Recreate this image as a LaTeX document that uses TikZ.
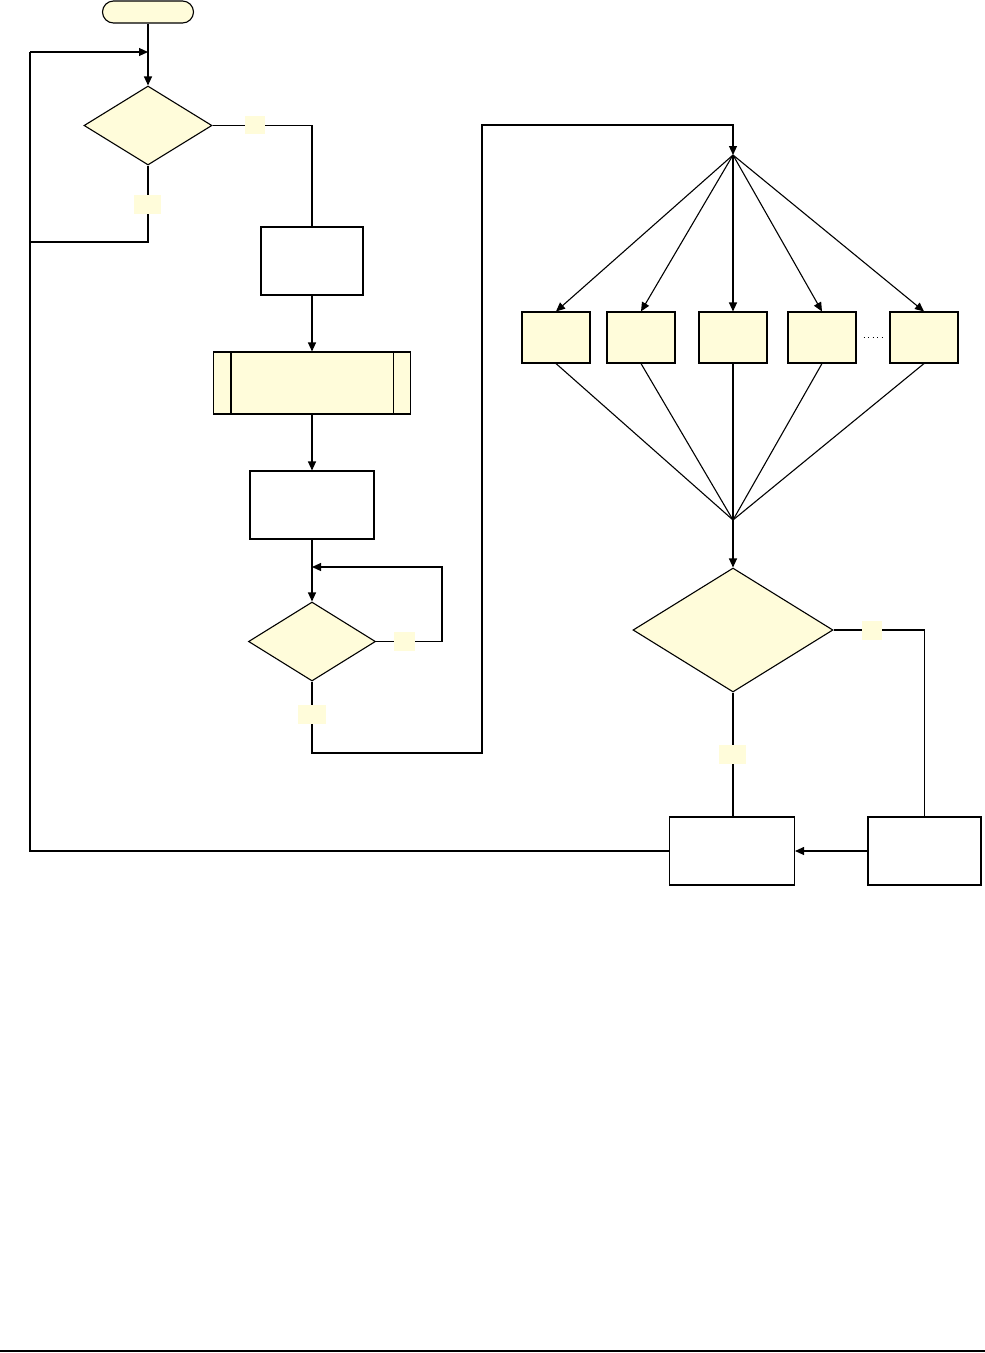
\documentclass[tikz,border=0pt]{standalone}
\usetikzlibrary{shapes.geometric,arrows.meta,calc}
\definecolor{fillY}{RGB}{255,252,218}
\begin{document}
\begin{tikzpicture}[x=1pt,y=-1pt,
  line/.style={line width=1.1pt, draw=black},
  arr/.style={line, -{Triangle[length=9pt,width=8pt]}},
  proc/.style={draw, line width=1.1pt, rectangle, inner sep=0pt, fill=white},
  yproc/.style={proc, fill=fillY},
  dec/.style={draw, line width=1.1pt, diamond, fill=fillY, inner sep=0pt},
  lab/.style={rectangle, fill=fillY, inner sep=0pt},
  pbox/.style={yproc, minimum width=68pt, minimum height=51pt},
]
\useasboundingbox (0,0) rectangle (985,1353);
% nodes
\node[yproc, rounded corners=11pt, minimum width=91pt, minimum height=22pt] (start) at (148,12) {};
\node[dec, minimum width=128pt, minimum height=79pt] (d1) at (148,125.5) {};
\node[proc, minimum width=102pt, minimum height=68pt] (b2) at (312,261) {};
\node[yproc, minimum width=197pt, minimum height=62pt] (pp) at (312,383) {};
\draw[line] ($(pp.north west)+(18,0)$) -- ($(pp.south west)+(18,0)$);
\draw[line] ($(pp.north east)+(-18,0)$) -- ($(pp.south east)+(-18,0)$);
\node[proc, minimum width=124pt, minimum height=68pt] (b3) at (312,505) {};
\node[dec, minimum width=127pt, minimum height=79pt] (d2) at (312,641.5) {};
\node[pbox] (A) at (556,337.5) {};
\node[pbox] (B) at (641,337.5) {};
\node[pbox] (C) at (733,337.5) {};
\node[pbox] (D) at (822,337.5) {};
\node[pbox] (E) at (924,337.5) {};
\node[dec, minimum width=200pt, minimum height=124pt] (d3) at (733,630) {};
\node[proc, minimum width=125pt, minimum height=68pt] (bl) at (732,851) {};
\node[proc, minimum width=113pt, minimum height=68pt] (br) at (924.5,851) {};
% junction coordinates
\coordinate (j1) at (148,52);
\coordinate (lc1) at (30,52);
\coordinate (lc2) at (30,851);
\coordinate (lc3) at (30,242);
\coordinate (j2) at (312,567);
\coordinate (c2) at (442,567);
\coordinate (c3) at (482,753);
\coordinate (c4) at (482,125);
\coordinate (fan) at (733,155);
\coordinate (merge) at (733,520);
% connectors
\draw[arr] (start) -- (d1);
\draw[line] (bl.west) -- (lc2) -- (lc1);
\draw[arr] (lc1) -- (j1);
\draw[line] (d1.south) |- (lc3);
\draw[line] (d1.east) -| (b2.north);
\draw[arr] (b2) -- (pp);
\draw[arr] (pp) -- (b3);
\draw[arr] (b3) -- (d2);
\draw[arr] (d2.east) -| (c2) -- (j2);
\draw[arr] (d2.south) |- (c3) -- (c4) -| (fan);
\foreach \n in {A,B,C,D,E}{
  \draw[arr] (fan) -- (\n.north);
  \draw[line] (\n.south) -- (merge);
}
\draw[arr] (merge) -- (d3.north);
\draw[line] (d3.east) -| (br.north);
\draw[line] (d3.south) -- (d3.south |- bl.north);
\draw[arr] (br.west) -- (bl.east);
\draw[line width=0.9pt, dash pattern=on 1pt off 3.5pt] ($(D.east)+(7,0)$) -- ($(E.west)+(-4,0)$);
% labels
\node[lab, minimum width=20pt, minimum height=18pt] (l1) at (255,125) {};
\node[lab, minimum width=27pt, minimum height=19pt] (l2) at (147.5,204.5) {};
\node[lab, minimum width=21pt, minimum height=19pt] (l3) at (404.5,641) {};
\node[lab, minimum width=28pt, minimum height=19pt] (l4) at (312,714.5) {};
\node[lab, minimum width=20pt, minimum height=19pt] (l5) at (872,630) {};
\node[lab, minimum width=27pt, minimum height=19pt] (l6) at (732,754.5) {};
% bottom rule
\draw[line width=2pt] (0,1351) -- (985,1351);
\end{tikzpicture}
\end{document}
